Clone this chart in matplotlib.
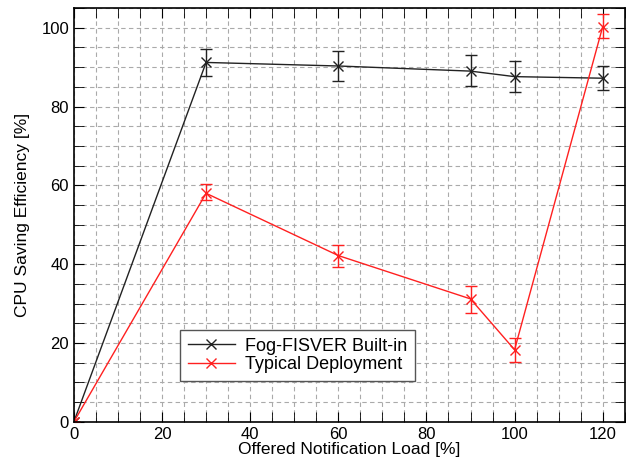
import matplotlib
matplotlib.use('Agg')
import matplotlib.pyplot as plt
from matplotlib.ticker import MultipleLocator
from matplotlib.lines import Line2D

plt.rcParams['font.family'] = ['Liberation Sans', 'DejaVu Sans']

load = [0, 30, 60, 90, 100, 120]
fog = [0, 91.2, 90.3, 89.0, 87.6, 87.2]
fog_lo = [0, 3.5, 3.8, 3.8, 4.0, 2.9]
fog_hi = [0, 3.3, 3.7, 4.0, 4.0, 3.2]
typ = [0, 58.0, 42.2, 31.2, 18.3, 100.3]
typ_lo = [0, 1.8, 3.0, 3.5, 3.2, 2.8]
typ_hi = [0, 2.3, 2.8, 3.2, 2.9, 3.2]
names = ['Fog-FISVER Built-in', 'Typical Deployment']
colors = ['#222222', '#ff2020']

fig = plt.figure(figsize=(6.26, 4.74), dpi=100)
ax = fig.add_axes([0.118, 0.11, 0.88, 0.873])

ax.errorbar(load, fog, yerr=[fog_lo, fog_hi], color=colors[0], marker='x',
            markersize=7, lw=1.0, capsize=4, elinewidth=1.0)
ax.errorbar(load, typ, yerr=[typ_lo, typ_hi], color=colors[1], marker='x',
            markersize=7, lw=1.0, capsize=4, elinewidth=1.0)

ax.set_xlim(0, 125)
ax.set_ylim(0, 105)
ax.xaxis.set_major_locator(MultipleLocator(20))
ax.xaxis.set_minor_locator(MultipleLocator(5))
ax.yaxis.set_major_locator(MultipleLocator(20))
ax.yaxis.set_minor_locator(MultipleLocator(5))
ax.grid(True, which='both', ls=(0, (4, 3)), color='#aaaaaa', lw=0.8)
ax.set_axisbelow(True)
ax.tick_params(which='both', direction='in', top=True, right=True, labelsize=12)
ax.tick_params(which='both', length=7)
for s in ax.spines.values():
    s.set_linewidth(1.2)

ax.set_xlabel('Offered Notification Load [%]', fontsize=12.5, labelpad=0)
ax.set_ylabel('CPU Saving Efficiency [%]', fontsize=12.5, labelpad=8)

handles = [Line2D([], [], color=c, marker='x', markersize=7, lw=1.0) for c in colors]
leg = ax.legend(handles, names, loc='lower left', bbox_to_anchor=(0.177, 0.078), fontsize=13,
                fancybox=False, framealpha=1, edgecolor='#555555',
                handlelength=2.6, borderpad=0.4, labelspacing=0.1, handletextpad=0.6)
leg.get_frame().set_linewidth(1.0)

fig.savefig('out.png', dpi=100)
